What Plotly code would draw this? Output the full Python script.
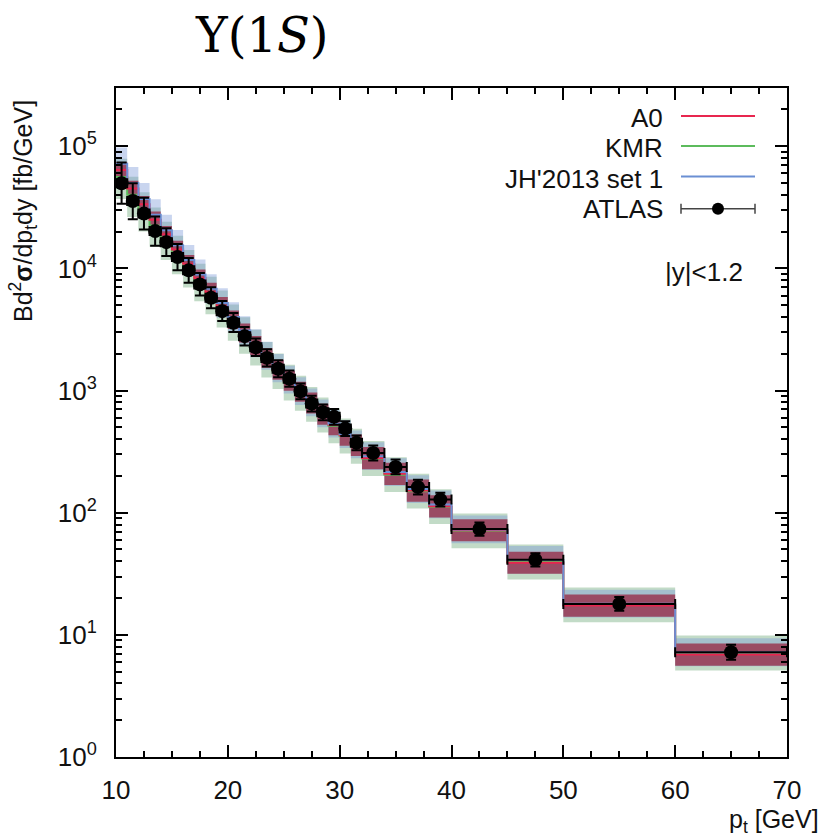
import plotly.graph_objects as go

# pT bin edges [GeV]
bin_edges = [10, 11, 12, 13, 14, 15, 16, 17, 18, 19, 20, 21, 22, 23, 24, 25, 26,
             27, 28, 29, 30, 31, 32, 34, 36, 38, 40, 45, 50, 60, 70]

# ATLAS |y|<1.2 measurement [fb/GeV]
atlas_y = [49800, 35600, 28100, 20200, 16400, 12400, 9640, 7400, 5750, 4470,
           3590, 2790, 2260, 1850, 1510, 1247, 987, 782, 664, 609,
           488, 373, 308, 237, 162, 128, 73.5, 41.2, 17.9, 7.2]
atlas_err_up_pct = [48, 40, 35, 32, 30, 28, 26, 24, 22, 21,
                    20, 19, 18, 18, 17, 17, 16, 16, 16, 16,
                    15, 15, 15, 15, 15, 14, 13, 13, 14, 15]
atlas_err_dn_pct = [32, 29, 26, 24, 23, 22, 21, 19, 18, 17,
                    16, 16, 15, 15, 15, 14, 14, 14, 14, 14,
                    13, 13, 13, 13, 13, 12, 12, 12, 12, 13]

# model predictions: central values [fb/GeV]
a0_y = [64000, 45000, 33500, 25000, 19000, 14300, 10900, 8300, 6400, 4900,
        3800, 2950, 2330, 1850, 1480, 1200, 975, 790, 640, 525,
        430, 355, 280, 208, 152, 113, 72, 39, 17.4, 6.9]
kmr_y = [56000, 40000, 30000, 22500, 17200, 13200, 10100, 7800, 6100, 4700,
         3650, 2860, 2260, 1800, 1450, 1170, 950, 770, 630, 515,
         425, 350, 278, 205, 150, 112, 71, 39.5, 17.6, 7.1]
jh_y = [72000, 50000, 37000, 27500, 20500, 15500, 11700, 8900, 6800, 5200,
        4000, 3100, 2430, 1920, 1520, 1230, 990, 800, 650, 535,
        440, 362, 290, 215, 156, 117, 73, 41, 18.0, 7.2]

# scale uncertainties of the predictions [%]
a0_up_pct = [16, 16, 17, 17, 17, 18, 18, 18, 19, 19, 19, 20, 20, 20, 21,
             21, 21, 22, 22, 22, 22, 23, 23, 23, 23, 23, 23, 23, 23, 23]
a0_dn_pct = [13, 13, 14, 14, 14, 15, 15, 15, 15, 16, 16, 16, 16, 17, 17,
             17, 17, 18, 18, 18, 18, 18, 19, 19, 19, 19, 19, 19, 19, 19]
kmr_up_pct = [41, 41, 40, 40, 40, 40, 40, 40, 40, 40, 39, 39, 39, 39, 39,
              39, 39, 39, 39, 39, 39, 39, 39, 39, 39, 39, 39, 39, 39, 39]
kmr_dn_pct = [34, 34, 33, 33, 32, 32, 31, 31, 31, 30, 30, 30, 29, 29, 29,
              29, 28, 28, 28, 28, 28, 28, 28, 28, 28, 28, 28, 28, 28, 28]
jh_up_pct = [36, 35, 35, 34, 34, 33, 33, 33, 32, 32, 32, 31, 31, 31, 31,
             30, 30, 30, 30, 30, 30, 30, 30, 30, 30, 30, 30, 30, 30, 30]
jh_dn_pct = [26, 26, 25, 25, 25, 25, 24, 24, 24, 24, 24, 24, 23, 23, 23,
             23, 23, 23, 23, 23, 23, 23, 23, 23, 23, 23, 23, 23, 23, 23]

x_ticks = [10, 20, 30, 40, 50, 60, 70]
y_ticks = [1, 10, 100, 1000, 10000, 100000]
y_ticktext = ["10<sup>0</sup>", "10<sup>1</sup>", "10<sup>2</sup>", "10<sup>3</sup>",
              "10<sup>4</sup>", "10<sup>5</sup>"]

A0_LINE, KMR_LINE, JH_LINE = "#e8264f", "#5cbb5c", "#6b8fd3"
A0_FILL = "rgba(150,30,60,0.72)"
KMR_FILL = "rgba(120,175,130,0.45)"
JH_FILL = "rgba(120,150,215,0.40)"

FONT = "Liberation Sans"
TEXT = "#111"

# plot-area geometry in pixels
W, H = 828, 839
L, R, T, B = 116, 787, 88, 757


def px(xp):
    return (xp - L) / (R - L)


def py(yp):
    return (B - yp) / (B - T)


def band_polygon(central, up_pct, dn_pct):
    hi = [c * (1 + u / 100) for c, u in zip(central, up_pct)]
    lo = [c * (1 - d / 100) for c, d in zip(central, dn_pct)]
    xs, ys = [], []
    for i, h in enumerate(hi):
        xs += [bin_edges[i], bin_edges[i + 1]]
        ys += [h, h]
    for i in range(len(lo) - 1, -1, -1):
        xs += [bin_edges[i + 1], bin_edges[i]]
        ys += [lo[i], lo[i]]
    return xs, ys


def step_xy(central):
    return list(bin_edges), list(central) + [central[-1]]


fig = go.Figure()

for central, up, dn, fill in [(kmr_y, kmr_up_pct, kmr_dn_pct, KMR_FILL),
                              (jh_y, jh_up_pct, jh_dn_pct, JH_FILL),
                              (a0_y, a0_up_pct, a0_dn_pct, A0_FILL)]:
    bx, by = band_polygon(central, up, dn)
    fig.add_trace(go.Scatter(x=bx, y=by, fill="toself", fillcolor=fill,
                             mode="none", hoverinfo="skip", showlegend=False))

for central, color in [(kmr_y, KMR_LINE), (a0_y, A0_LINE), (jh_y, JH_LINE)]:
    sx, sy = step_xy(central)
    fig.add_trace(go.Scatter(x=sx, y=sy, mode="lines", line_shape="hv",
                             line=dict(color=color, width=2), showlegend=False))

centers = [(bin_edges[i] + bin_edges[i + 1]) / 2 for i in range(len(atlas_y))]
half_w = [(bin_edges[i + 1] - bin_edges[i]) / 2 for i in range(len(atlas_y))]
err_up = [v * p / 100 for v, p in zip(atlas_y, atlas_err_up_pct)]
err_dn = [v * p / 100 for v, p in zip(atlas_y, atlas_err_dn_pct)]

fig.add_trace(go.Scatter(
    x=centers, y=atlas_y, mode="markers",
    marker=dict(color="black", size=14, symbol="circle"),
    error_y=dict(type="data", array=err_up, arrayminus=err_dn,
                 color="black", thickness=2, width=5),
    error_x=dict(type="data", array=half_w, color="black", thickness=2, width=5),
    showlegend=False))

# key
key_rows = [("A0", 118, A0_LINE), ("KMR", 148, KMR_LINE),
            ("JH'2013 set 1", 178.5, JH_LINE), ("ATLAS", 208.7, None)]
shapes = []
annotations = []
for label, yp, color in key_rows:
    annotations.append(dict(x=px(665), y=py(yp), xref="paper", yref="paper",
                            text=label, showarrow=False, xanchor="right",
                            yanchor="middle",
                            font=dict(family=FONT, size=26, color=TEXT)))
    if color:
        shapes.append(dict(type="line", xref="paper", yref="paper",
                           x0=px(681), x1=px(755), y0=py(yp - 2), y1=py(yp - 2),
                           line=dict(color=color, width=2)))
    else:
        shapes.append(dict(type="line", xref="paper", yref="paper",
                           x0=px(681), x1=px(755), y0=py(yp), y1=py(yp),
                           line=dict(color="#444", width=1.5)))
        for xe in (681, 755):
            shapes.append(dict(type="line", xref="paper", yref="paper",
                               x0=px(xe), x1=px(xe), y0=py(yp - 5), y1=py(yp + 5),
                               line=dict(color="#444", width=1.5)))
        shapes.append(dict(type="circle", xref="paper", yref="paper",
                           xsizemode="pixel", ysizemode="pixel",
                           xanchor=px(718), yanchor=py(yp),
                           x0=-6, x1=6, y0=-6, y1=6,
                           fillcolor="black", line=dict(color="black", width=0)))

annotations += [
    dict(x=px(663), y=py(272), xref="paper", yref="paper", text="|y|<1.2",
         showarrow=False, xanchor="left", yanchor="middle",
         font=dict(family=FONT, size=26, color=TEXT)),
    dict(x=px(262), y=py(35), xref="paper", yref="paper",
         text="Υ(1<i>S</i>)", showarrow=False, xanchor="center", yanchor="middle",
         font=dict(family="DejaVu Serif", size=48, color="black")),
    dict(x=px(23), y=py(211), xref="paper", yref="paper", textangle=-90,
         text="Bd<sup>2</sup><b>σ</b>/dp<sub>t</sub>dy [fb/GeV]",
         showarrow=False, xanchor="center", yanchor="middle",
         font=dict(family=FONT, size=25, color=TEXT)),
    dict(x=px(727), y=py(839), xref="paper", yref="paper",
         text="p<sub>t</sub> [GeV]", showarrow=False, xanchor="left",
         yanchor="bottom", font=dict(family=FONT, size=25, color=TEXT)),
]

axis_common = dict(showgrid=False, zeroline=False, ticks="inside", mirror="ticks",
                   showline=True, linecolor="black", linewidth=2,
                   tickcolor="black", tickwidth=1.5, ticklen=12,
                   tickfont=dict(family=FONT, size=26, color=TEXT))

fig.update_layout(
    width=W, height=H, paper_bgcolor="white", plot_bgcolor="white",
    margin=dict(l=L, r=W - R, t=T, b=H - B),
    showlegend=False,
    shapes=shapes, annotations=annotations,
    xaxis=dict(range=[10, 70], tickvals=x_ticks, ticktext=[str(v) for v in x_ticks],
               minor=dict(ticks="inside", dtick=2.5, ticklen=6, tickcolor="black",
                          tickwidth=1.5),
               ticklabelstandoff=9,
               **axis_common),
    yaxis=dict(type="log", range=[0, 5.477], tickvals=y_ticks, ticktext=y_ticktext,
               minor=dict(ticks="inside", dtick="D1", ticklen=6, tickcolor="black",
                          tickwidth=1.5),
               ticklabelstandoff=12,
               **axis_common),
)

fig.write_html("out.html")
